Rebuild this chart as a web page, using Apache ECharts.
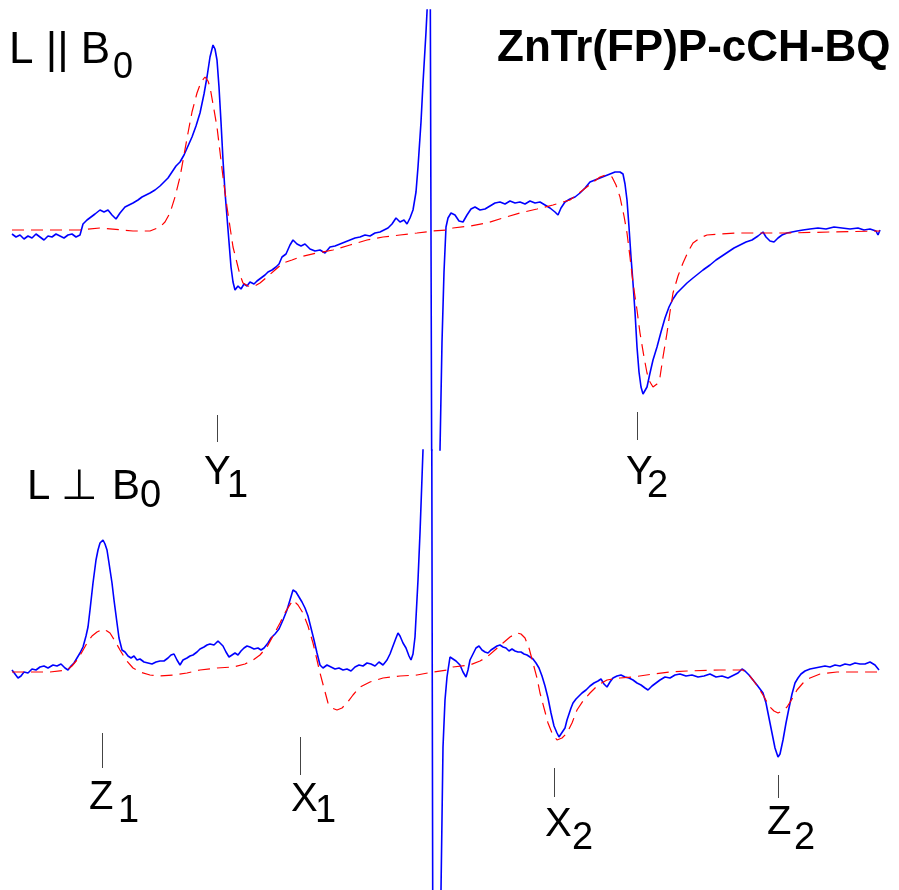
<!DOCTYPE html>
<html><head><meta charset="utf-8">
<script src="https://cdn.jsdelivr.net/npm/echarts@6/dist/echarts.min.js"></script>
<style>html,body{margin:0;padding:0;background:#fff}#c{width:899px;height:890px}</style>
</head><body><div id="c"></div>
<script>
// Field axis (arbitrary field units) and signal amplitudes
const fieldMin = 12, fieldMax = 880;

// Panel 1: L || B0  (experimental, blue)
const topExp = [[12,-2],[16,-5],[20,-3],[24,-7],[28,-4],[32,-6],[36,-2],[40,-5],[44,-8],[48,-4],[52,-5],[56,-2],[60,-4],[64,-6],[68,-3],[72,-2],[76,-5],[80,-3],[83,8],[87,12],[91,15],[95,18],[100,22],[104,20],[108,22],[112,17],[116,13],[120,19],[125,25],[129,27],[133,29],[138,32],[142,35],[146,37],[150,39],[155,42],[160,46],[164,50],[168,54],[172,60],[176,66],[180,70],[184,77],[188,86],[192,95],[196,106],[200,119],[204,138],[207,155],[210,175],[213,187],[215,183],[217,172],[219,145],[221,110],[223,72],[225,40],[227,15],[229,-10],[231,-35],[233,-50],[235,-58],[238,-54],[241,-57],[244,-52],[247,-54],[250,-50],[254,-52],[257,-49],[261,-46],[265,-43],[268,-40],[272,-38],[276,-35],[279,-32],[282,-25],[286,-22],[290,-13],[293,-8],[297,-12],[301,-14],[305,-12],[310,-17],[315,-19],[320,-18],[325,-21],[330,-15],[335,-14],[340,-12],[345,-10],[350,-8],[355,-6],[360,-5],[365,-3],[370,-4],[375,-1],[380,0],[384,2],[388,4],[392,8],[396,14],[400,10],[404,12],[407,8],[410,14],[413,22],[416,40],[418,65],[421,110],[423,149],[426,200],[428,240],[429.5,500],[432.5,-500],[437,-400],[440,-218],[442,-110],[444,-40],[446,5],[448,14],[451,19],[455,17],[459,11],[463,10],[467,17],[471,23],[475,25],[480,22],[485,23],[490,26],[495,29],[500,30],[505,28],[510,31],[515,29],[520,30],[525,28],[530,31],[535,29],[540,30],[545,27],[550,24],[555,20],[558,17],[561,24],[565,30],[570,33],[575,35],[580,39],[585,44],[590,50],[595,52],[600,54],[605,56],[610,58],[615,60],[620,60],[623,58],[625,48],[627,32],[629,5],[631,-25],[633,-51],[635,-80],[637,-115],[639,-140],[641,-155],[643,-162],[645,-163],[647,-155],[650,-141],[653,-128],[657,-115],[661,-100],[665,-86],[669,-75],[673,-67],[677,-61],[682,-56],[687,-51],[693,-46],[698,-42],[703,-38],[710,-33],[716,-28],[722,-24],[728,-20],[734,-16],[740,-13],[746,-10],[752,-8],[758,-4],[763,0],[766,-5],[770,-9],[774,-10],[778,-6],[782,-3],[787,-1],[792,0],[797,1],[803,2],[810,3],[818,4],[826,3],[834,5],[842,4],[850,3],[858,4],[864,2],[870,3],[876,1],[878,-3],[880,2]];

// Panel 1: simulation (red dashed)
const topSim = [[12,2],[40,2],[80,2],[100,4],[133,1],[150,1],[160,5],[165,10],[170,19],[175,35],[180,55],[184,77],[188,99],[192,120],[197,139],[201,150],[205,155],[208,151],[210,145],[213,128],[217,105],[220,80],[223,55],[227,25],[230,5],[233,-15],[237,-31],[240,-43],[243,-51],[248,-54],[253,-55],[260,-51],[267,-45],[275,-38],[283,-31],[292,-28],[300,-25],[317,-21],[333,-18],[350,-13],[367,-8],[383,-5],[400,-3],[417,-1],[433,1],[447,2],[453,4],[470,6],[487,9],[503,14],[520,19],[537,23],[553,27],[570,32],[583,42],[592,49],[600,55],[606,57],[612,55],[616,47],[620,35],[624,16],[627,-1],[630,-25],[633,-51],[637,-78],[640,-101],[644,-125],[647,-141],[650,-150],[653,-155],[657,-152],[660,-145],[663,-125],[667,-101],[670,-80],[673,-61],[678,-44],[683,-31],[688,-20],[693,-11],[700,-6],[707,-3],[720,-2],[737,-1],[787,-1],[830,0],[880,1]];

// Panel 2: L ⊥ B0 (experimental, blue)
const botExp = [[12,-2],[15,-6],[18,-10],[21,-8],[24,-4],[28,-5],[32,-1],[36,-2],[40,1],[44,2],[48,0],[53,3],[57,2],[61,4],[65,0],[68,-2],[71,2],[74,5],[77,10],[80,15],[83,21],[86,32],[88,41],[90,58],[93,85],[96,108],[98,118],[100,125],[103,128],[105,124],[107,118],[109,105],[112,85],[114,68],[117,45],[119,30],[122,18],[125,16],[128,12],[131,10],[134,12],[137,8],[140,9],[144,6],[148,5],[152,4],[156,6],[160,7],[164,7],[168,10],[171,13],[174,14],[177,8],[180,3],[183,8],[187,10],[190,12],[193,13],[197,16],[200,19],[204,21],[207,23],[210,24],[214,23],[218,27],[220,29],[223,22],[226,16],[229,11],[232,13],[235,15],[238,13],[241,17],[244,20],[247,22],[250,21],[254,19],[258,20],[261,18],[264,20],[268,25],[271,30],[275,34],[279,39],[283,48],[287,58],[290,68],[293,78],[296,76],[299,71],[302,66],[305,60],[308,52],[311,40],[314,28],[317,15],[320,3],[323,0],[327,3],[331,1],[335,-1],[339,0],[343,-2],[347,-1],[351,-3],[355,1],[359,3],[363,2],[367,5],[371,4],[375,2],[379,6],[383,3],[387,8],[390,14],[393,22],[396,30],[398,35],[400,32],[403,25],[406,20],[409,12],[411,8],[413,14],[415,31],[418,88],[420,135],[423,218],[425,300],[431,600],[433.5,-600],[438,-500],[441,-222],[443,-79],[445,-32],[447,-9],[450,11],[453,9],[456,7],[460,3],[463,-4],[466,-9],[468,-2],[470,8],[473,14],[476,20],[479,22],[482,18],[485,16],[488,15],[491,18],[494,20],[497,22],[500,23],[503,21],[506,20],[509,17],[512,19],[515,17],[518,16],[521,16],[524,14],[527,13],[530,11],[533,9],[536,5],[539,0],[542,-8],[545,-18],[548,-30],[551,-45],[554,-58],[557,-65],[559,-69],[561,-66],[563,-68],[565,-60],[567,-52],[569,-46],[571,-40],[573,-35],[576,-31],[579,-28],[582,-25],[586,-22],[590,-18],[594,-15],[598,-13],[601,-11],[604,-16],[607,-19],[610,-14],[613,-10],[617,-8],[621,-7],[625,-9],[629,-10],[633,-12],[637,-15],[641,-17],[645,-20],[648,-22],[652,-18],[656,-15],[660,-12],[665,-9],[670,-10],[675,-7],[680,-6],[686,-8],[692,-7],[698,-9],[704,-8],[710,-6],[716,-9],[722,-8],[728,-10],[734,-7],[738,-5],[742,-1],[745,-3],[749,-7],[753,-12],[757,-17],[760,-21],[763,-25],[766,-35],[769,-50],[772,-65],[775,-80],[778,-89],[780,-86],[783,-72],[786,-55],[789,-40],[792,-26],[795,-15],[798,-10],[801,-6],[805,-3],[810,-1],[815,0],[820,1],[825,2],[830,1],[835,3],[840,2],[845,4],[850,3],[855,5],[860,4],[865,4],[870,6],[875,3],[879,-2]];

// Panel 2: simulation (red dashed)
const botSim = [[12,-4],[30,-4],[50,-4],[67,-2],[72,2],[77,8],[82,16],[87,25],[92,32],[97,36],[103,39],[107,37],[110,35],[115,27],[120,18],[126,8],[133,0],[140,-4],[150,-7],[160,-8],[173,-7],[187,-5],[200,-2],[217,0],[233,1],[245,4],[253,8],[260,13],[267,21],[273,32],[280,45],[286,57],[293,68],[298,63],[303,55],[308,42],[313,25],[317,8],[320,-5],[324,-20],[328,-35],[332,-40],[337,-42],[342,-40],[347,-35],[353,-27],[360,-19],[370,-14],[383,-10],[400,-8],[417,-7],[433,-4],[447,-2],[453,1],[470,3],[480,7],[487,11],[495,18],[503,25],[510,31],[517,35],[521,34],[525,30],[529,20],[533,5],[537,-10],[540,-25],[544,-40],[548,-55],[552,-65],[557,-72],[562,-70],[567,-65],[572,-55],[577,-42],[583,-33],[590,-25],[598,-17],[607,-12],[620,-10],[633,-9],[653,-6],[670,-4],[687,-3],[720,-2],[743,-2],[748,-6],[753,-12],[758,-19],[763,-27],[767,-34],[770,-39],[774,-43],[778,-45],[782,-43],[787,-39],[792,-31],[797,-22],[803,-15],[810,-10],[820,-6],[837,-4],[877,-4]];

// Canonical-orientation marker ticks: [field, yFrom, yTo]
const topMarks = [[217,-183,-210],[637,-180,-208]];
const botMarks = [[102,-65,-100],[300,-69,-107],[554,-100,-129],[778,-107,-130]];

// Text labels
const titleText = 'ZnTr(FP)P-cCH-BQ';
const markLabels = [
  {m:'Y', s:'1', mx:204, my:473, sx:227, sy:487},
  {m:'Y', s:'2', mx:626, my:473, sx:647, sy:487},
  {m:'Z', s:'1', mx:89,  my:798, sx:118, sy:812},
  {m:'X', s:'1', mx:291, my:800, sx:315, sy:812},
  {m:'X', s:'2', mx:545, my:825, sx:572, sy:839},
  {m:'Z', s:'2', mx:767, my:823, sx:794, sy:839}
];

const chart = echarts.init(document.getElementById('c'), null, {renderer:'canvas'});
const FONT = 'Liberation Sans, Arial, sans-serif';
function markLineData(marks){
  return marks.map(m => [{coord:[m[0], m[1]]},{coord:[m[0], m[2]]}]);
}
function expSeries(data, idx, marks){
  return {type:'line', xAxisIndex:idx, yAxisIndex:idx, data:data, showSymbol:false, symbol:'none',
    clip:true, animation:false, silent:true,
    lineStyle:{color:'#0000ff', width:1.6},
    markLine:{silent:true, symbol:['none','none'], label:{show:false}, animation:false,
      lineStyle:{color:'#444', width:1, type:'solid'}, data: markLineData(marks)}};
}
function simSeries(data, idx){
  return {type:'line', xAxisIndex:idx, yAxisIndex:idx, data:data, showSymbol:false, symbol:'none',
    clip:true, animation:false, silent:true, z:3,
    lineStyle:{color:'#ff0000', width:1.2, type:[12,7]}};
}
const graphics = [
  {type:'text', x:497, y:49, style:{text:titleText, font:'bold 44px '+FONT, fill:'#000', verticalAlign:'middle'}},
  {type:'text', x:9, y:51, style:{text:'L || B', font:'44px '+FONT, fill:'#000', verticalAlign:'middle'}},
  {type:'text', x:113, y:68, style:{text:'0', font:'36px '+FONT, fill:'#000', verticalAlign:'middle'}},
  {type:'text', x:27, y:487, style:{text:'L', font:'42px '+FONT, fill:'#000', verticalAlign:'middle'}},
  {type:'text', x:79, y:487, style:{text:'\u22A5', font:'42px '+FONT, fill:'#000', align:'center', verticalAlign:'middle'}},
  {type:'text', x:112, y:487, style:{text:'B', font:'42px '+FONT, fill:'#000', verticalAlign:'middle'}},
  {type:'text', x:140, y:497, style:{text:'0', font:'38px '+FONT, fill:'#000', verticalAlign:'middle'}}
];
markLabels.forEach(l => {
  graphics.push({type:'text', x:l.mx, y:l.my, style:{text:l.m, font:'40px '+FONT, fill:'#000', verticalAlign:'middle'}});
  graphics.push({type:'text', x:l.sx, y:l.sy, style:{text:l.s, font:'38px '+FONT, fill:'#000', verticalAlign:'middle'}});
});

chart.setOption({
  animation:false,
  backgroundColor:'#ffffff',
  grid:[{left:12, top:10, width:868, height:440},{left:12, top:450, width:868, height:440}],
  xAxis:[{type:'value', gridIndex:0, min:fieldMin, max:fieldMax, show:false},
         {type:'value', gridIndex:1, min:fieldMin, max:fieldMax, show:false}],
  yAxis:[{type:'value', gridIndex:0, min:-218, max:222, show:false},
         {type:'value', gridIndex:1, min:-222, max:218, show:false}],
  series:[expSeries(topExp,0,topMarks), simSeries(topSim,0), expSeries(botExp,1,botMarks), simSeries(botSim,1)],
  graphic: graphics
});
</script></body></html>
